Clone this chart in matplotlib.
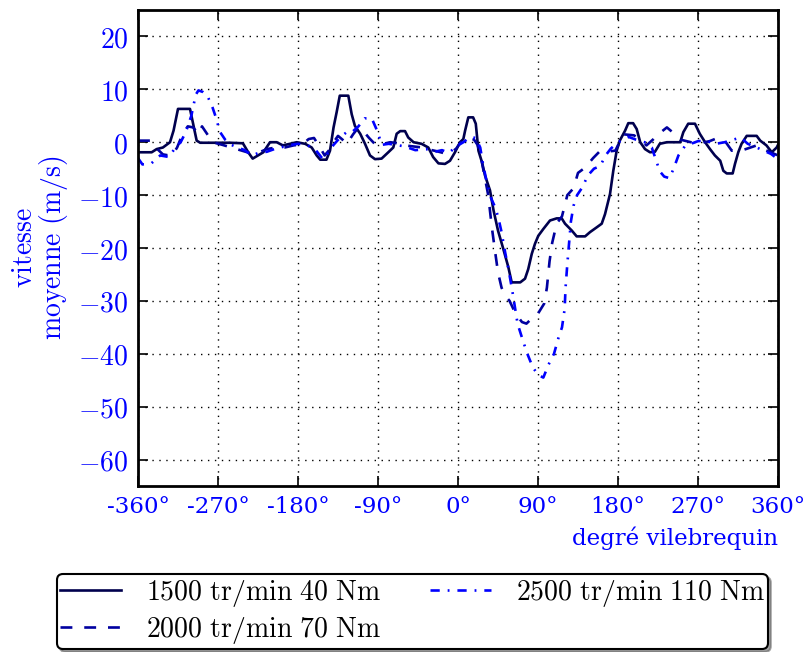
import matplotlib
matplotlib.use("Agg")
import matplotlib.pyplot as plt
import numpy as np

plt.rcParams['mathtext.fontset'] = 'cm'

# ---- data (degrees crankshaft, mean velocity m/s) ----
s1_x = [-360, -344.6, -339, -332, -324, -320, -315, -301.5, -298, -294, -290, -256.5, -242, -236,
        -231, -225, -219, -211.5, -204, -197, -189, -181.5, -172, -164.6, -159, -155, -148, -144,
        -140, -136.5, -133, -123.4, -119.6, -116, -110, -104.6, -99, -93.4, -86, -78.4, -72.8, -69,
        -65, -59.6, -56, -50, -41, -33.4, -28, -22, -14.6, -9, -3.4, 2.25, 6, 8, 11.6, 17, 20, 23,
        27, 30.4, 36, 40, 45, 51, 56.6, 60.4, 70, 75.4, 79, 83, 86.6, 90.3, 96, 103.5, 111, 116.7,
        120.4, 128, 133.5, 143, 148.5, 156, 161.7, 165.4, 171, 174.7, 178.5, 182, 188, 191.6, 197,
        201, 205, 210.4, 216, 221.6, 227, 235, 250, 253.5, 259, 266.6, 272, 278, 283.5, 289, 295,
        298.5, 302.3, 309, 311.6, 315.3, 319, 324.8, 336, 340, 347, 353, 358.5, 360]
s1_y = [-1.9, -1.9, -1.3, -1.0, 0.0, 2.2, 6.3, 6.3, 3.5, 0.3, -0.1, -0.1, -0.2, -1.9,
        -3.1, -2.5, -1.9, 0.0, 0.0, -0.6, -0.3, 0.0, -0.3, -1.0, -2.5, -3.3, -3.3, -1.6,
        2.8, 5.7, 8.8, 8.8, 5.3, 3.1, 1.6, -0.3, -2.5, -3.2, -3.1, -1.9, -1.0, 1.6,
        2.1, 2.1, 0.9, 0.0, -0.3, -1.0, -2.8, -4.0, -4.1, -3.5, -1.9, 0.0, 0.6, 2.2, 4.7, 4.7, 3.5, -1.6,
        -3.8, -6.3, -9.1, -12.9, -16.7, -20.2, -23.6, -26.5, -26.5, -25.8, -24.0, -21.1, -19.2, -17.7, -16.4, -14.8, -14.4, -14.4,
        -15.4, -16.7, -17.8, -17.8, -17.0, -16.1, -15.4, -13.6, -9.8, -5.4, -1.6, 0.3, 2.2, 3.6, 3.6,
        2.5, 0.0, -1.3, -1.9, -1.8, -0.3, 0.0, 0.0, 1.9, 3.5, 3.5, 1.6, 0.0, -1.3, -2.5, -3.5,
        -5.4, -5.9, -5.9, -4.1, -1.9, -0.3, 1.2, 1.2, 0.3, -0.6, -1.9, -1.0, -0.5]

s2_x = [-360, -346, -340, -332, -322, -316, -310, -304, -298, -292, -288, -282, -276, -265, -255,
        -245, -235, -225, -215, -205, -195, -185, -175, -168, -162, -156, -150, -145, -140, -135,
        -130, -125, -118, -112, -106, -100, -92, -84, -76, -68, -60, -50, -40, -32, -24, -15, -8,
        -2, 4, 12, 18, 22, 26, 30, 34, 38, 42, 45, 49, 53, 58, 65, 72, 77, 85, 90, 97, 100, 103,
        106, 111, 117, 123, 130, 135, 143, 152, 159, 166, 177, 186, 198, 205, 212, 220, 226, 235,
        242, 250, 262, 272, 283, 292, 300, 308, 322, 336, 346, 360]
s2_y = [0.3, 0.3, -1.0, -2.3, -2.6, -1.0, 1.5, 3.0, 2.8, 1.5, 3.0, 1.5, 0.0, -0.5, -1.0,
        -1.5, -2.0, -2.0, -1.3, -1.0, -1.0, -0.6, -0.4, 0.6, 0.8, -0.8, -2.5, -1.5, 0.0, 1.2,
        0.5, -0.3, 1.5, 2.8, 2.0, 0.8, -0.6, -0.3, 0.0, -0.2, -0.6, -0.8, -1.0, -1.4, -1.7, -2.1, -2.0,
        -1.2, 0.2, 0.8, 0.5, -0.5, -3.0, -6.5, -10.0, -16.0, -21.0, -24.6, -27.5, -29.0, -30.0, -32.5, -34.0, -34.3, -33.0, -32.4, -30.5, -27.5, -22.5,
        -19.0, -15.4, -14.0, -10.0, -8.7, -5.8, -4.8, -3.0, -1.8, -1.8, -1.6, 1.5, 1.3, 0.5, -0.6, 0.6, 1.6, 2.8,
        1.8, 0.5, 0.0, -0.2, 0.2, 0.8, 0.3, -1.6, -1.4, -0.6, -1.5, -2.5]

s3_x = [-360, -355, -345, -335, -325, -318, -312, -306, -300, -295, -292, -287, -282, -276, -272,
        -268, -262, -255, -248, -240, -232, -224, -215, -205, -195, -188, -180, -170, -160, -152,
        -146, -140, -132, -126, -120, -112, -105, -97, -90, -86, -78, -70, -60, -48, -36, -26, -18,
        -10, -2, 6, 14, 20, 25, 28, 32, 37, 41, 45, 49, 53, 57, 61, 67, 73, 78, 84, 90, 96, 102,
        108, 113, 117, 120, 121, 123, 125, 127, 130, 134, 140, 146, 153, 160, 166, 172, 178, 185,
        192, 200, 210, 218, 222, 227, 232, 238, 243, 248, 255, 262, 270, 278, 290, 300, 310, 318,
        326, 336, 344, 352, 360]
s3_y = [-3.0, -4.2, -4.0, -2.5, -2.8, -1.0, 0.0, 2.0, 5.0, 9.0, 9.8, 9.5, 8.8, 6.5, 4.5,
        2.0, 0.5, -0.5, -1.0, -1.5, -2.5, -2.0, -1.8, -1.2, -0.8, -0.5, -0.3, -0.5, -1.5, -3.2,
        -2.0, -0.5, 1.0, 1.8, 1.8, 3.0, 4.5, 4.5, 1.8, -0.5, -0.3, -0.5, -0.8, -1.5, -1.3, -1.8, -1.5,
        -2.0, -0.8, 0.0, 1.0, 0.8, -1.0, -4.0, -7.3, -10.5, -12.0, -14.0, -17.0, -20.8, -24.2, -28.0, -34.3, -37.5, -40.0, -42.5, -44.0, -44.5, -42.0,
        -40.0, -37.0, -35.0, -31.5, -27.5, -23.0, -19.0, -15.0, -12.0, -10.0, -8.5, -6.3, -5.0, -4.5, -2.5, -1.2, -0.3, 0.5,
        1.0, 0.5, 0.0, -1.0, -3.0, -5.5, -6.5, -6.8, -4.8, -2.5, -0.8, -0.3, 0.2, 0.3, -0.3, 0.0, 0.5, 0.9,
        -0.3, -1.0, -1.6, -2.2, -3.2]

labels = [r'$\mathrm{1500\ tr/min\ 40\ Nm}$',
          r'$\mathrm{2000\ tr/min\ 70\ Nm}$',
          r'$\mathrm{2500\ tr/min\ 110\ Nm}$']

xticks = [-360, -270, -180, -90, 0, 90, 180, 270, 360]
xticklabels = ['-360°', '-270°', '-180°', '-90°', '0°', '90°', '180°', '270°', '360°']
yticks = [20, 10, 0, -10, -20, -30, -40, -50, -60]
yticklabels = [r'$%d$' % v for v in yticks]

# ---- figure ----
fig = plt.figure(figsize=(8.08, 6.52), dpi=100)
ax = fig.add_axes([138/808, 1-486/652, (778-138)/808, (486-10)/652])

ax.plot(s1_x, s1_y, color='#00004d', lw=1.9, ls='-', label=labels[0])
ax.plot(s2_x, s2_y, color='#0000a0', lw=1.9, ls=(0, (4.5, 4.5)), label=labels[1])
ax.plot(s3_x, s3_y, color='#0000ff', lw=1.9, ls=(0, (3.5, 3, 0.7, 3)), label=labels[2])

ax.set_xlim(-360, 360)
ax.set_ylim(-65, 25)
ax.set_xticks(xticks)
ax.set_xticklabels(xticklabels, family='DejaVu Serif', fontsize=16.5)
ax.set_yticks(yticks)
ax.set_yticklabels(yticklabels, fontsize=20)
ax.tick_params(direction='in', length=7, width=1.2, top=True, right=True,
               labelcolor='#0000ff', pad=7)
ax.grid(True, color='black', ls=(0, (1, 4)), lw=1.0)
for sp in ax.spines.values():
    sp.set_linewidth(2.0)

ax.set_xlabel('degré vilebrequin', family='DejaVu Serif', fontsize=16.5, color='#0000ff',
              loc='right', labelpad=6)
ax.set_ylabel(r'$\mathrm{vitesse}$' + '\n' + r'$\mathrm{moyenne\ (m/s)}$', fontsize=20,
              color='#0000ff', labelpad=6, linespacing=0.95)

leg = fig.legend(loc='lower left', bbox_to_anchor=(57/808, 3/652, 711/808, 78/652),
                 mode='expand', ncol=2, fontsize=20, frameon=True, shadow=True,
                 fancybox=True, handlelength=2.2, handletextpad=0.9,
                 borderaxespad=0.0, borderpad=0.12, labelspacing=0.22)
leg.get_frame().set_edgecolor('black')
leg.get_frame().set_linewidth(1.5)

fig.savefig('out.png', dpi=100)
